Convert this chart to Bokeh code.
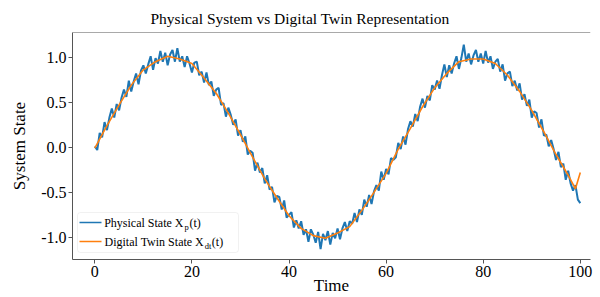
import numpy as np
from bokeh.plotting import figure
from bokeh.models import Range1d, Label, BoxAnnotation, Span, FixedTicker, PrintfTickFormatter
from bokeh.embed import file_html
from bokeh.resources import INLINE

TITLE = "Physical System vs Digital Twin Representation"
X_LABEL = "Time"
Y_LABEL = "System State"
X_TICKS = [0, 20, 40, 60, 80, 100]
Y_TICKS = [-1.0, -0.5, 0.0, 0.5, 1.0]

time = np.linspace(0, 100, 201)
physical = [
    0.01, -0.03, 0.16, 0.11, 0.28, 0.19, 0.33, 0.43, 0.33, 0.48,
    0.41, 0.55, 0.64, 0.56, 0.74, 0.62, 0.73, 0.82, 0.70, 0.85,
    0.91, 0.82, 0.92, 1.01, 0.86, 0.99, 0.93, 1.07, 0.95, 1.05,
    0.91, 1.03, 1.08, 0.95, 1.10, 0.95, 1.01, 0.89, 1.01, 0.93,
    0.83, 0.94, 0.95, 0.80, 0.84, 0.72, 0.83, 0.69, 0.73, 0.57,
    0.64, 0.66, 0.47, 0.49, 0.34, 0.44, 0.36, 0.25, 0.31, 0.13,
    0.19, 0.06, 0.12, -0.08, -0.04, -0.06, -0.26, -0.17, -0.28, -0.23,
    -0.40, -0.31, -0.47, -0.44, -0.61, -0.54, -0.55, -0.69, -0.59, -0.78,
    -0.75, -0.72, -0.89, -0.81, -0.90, -0.82, -0.97, -0.91, -1.05, -0.91,
    -0.97, -1.06, -0.94, -1.13, -0.96, -1.03, -0.93, -1.08, -0.95, -1.01,
    -0.90, -1.02, -0.90, -0.83, -0.93, -0.82, -0.85, -0.73, -0.83, -0.69,
    -0.75, -0.58, -0.66, -0.53, -0.63, -0.49, -0.42, -0.48, -0.27, -0.36,
    -0.24, -0.30, -0.12, -0.14, -0.11, 0.05, -0.02, 0.12, 0.03, 0.20,
    0.29, 0.23, 0.37, 0.29, 0.45, 0.54, 0.44, 0.57, 0.52, 0.69,
    0.64, 0.74, 0.65, 0.80, 0.92, 0.78, 0.91, 0.82, 0.93, 1.01,
    0.87, 0.99, 1.14, 0.95, 1.04, 0.92, 1.02, 1.08, 0.95, 1.04,
    0.93, 1.07, 0.94, 1.01, 0.87, 0.95, 0.98, 0.84, 0.92, 0.74,
    0.82, 0.84, 0.68, 0.74, 0.63, 0.71, 0.53, 0.59, 0.46, 0.53,
    0.33, 0.40, 0.38, 0.22, 0.31, 0.13, 0.14, 0.01, 0.08, -0.02,
    -0.14, -0.05, -0.22, -0.18, -0.36, -0.26, -0.40, -0.48, -0.42, -0.58,
    -0.62,
]

# digital twin state
twin_time = [0, 2.5, 5, 7.5, 10, 12.5, 15, 17.5, 20, 22.5,
             25, 27.5, 30, 32.5, 35, 37.5, 40, 42.5, 45, 47.5,
             50, 52.5, 55, 57.5, 60, 62.5, 65, 67.5, 70, 72.5,
             75, 77.5, 80, 82.5, 85, 87.5, 90, 92.5, 95, 97.5,
             99, 100]
twin = [-0.01, 0.24, 0.47, 0.69, 0.86, 0.95, 1.01, 0.98, 0.93, 0.77,
        0.60, 0.38, 0.14, -0.11, -0.35, -0.56, -0.76, -0.90, -0.98, -1.01,
        -0.95, -0.88, -0.70, -0.50, -0.29, -0.02, 0.21, 0.45, 0.66, 0.82,
        0.95, 0.98, 0.98, 0.93, 0.80, 0.62, 0.41, 0.17, -0.08, -0.31,
        -0.46, -0.28]

X_MIN, X_MAX = -4.6, 102.1
Y_MIN, Y_MAX = -1.245, 1.274

SERIF = "Liberation Serif"
BLUE = "#1f77b4"
ORANGE = "#ff7f0e"
SPINE = "#555555"

p = figure(width=600, height=297, output_backend="svg", toolbar_location=None,
           x_range=Range1d(X_MIN, X_MAX), y_range=Range1d(Y_MIN, Y_MAX),
           min_border_left=72, min_border_right=10, min_border_top=32, min_border_bottom=0)

p.title.text = TITLE
p.title.text_font = SERIF
p.title.text_font_style = "normal"
p.title.text_font_size = "15.5px"
p.title.text_color = "black"
p.title.align = "left"
p.title.offset = 78
p.title.standoff = 11

p.background_fill_color = "white"
p.border_fill_color = "white"
p.outline_line_color = None
p.xgrid.visible = False
p.ygrid.visible = False

for ax in (p.xaxis[0], p.yaxis[0]):
    ax.axis_line_color = SPINE
    ax.major_tick_line_color = SPINE
    ax.minor_tick_line_color = None
    ax.major_tick_in = 0
    ax.major_tick_out = 4
    ax.major_label_text_font = SERIF
    ax.major_label_text_font_size = "16px"
    ax.major_label_text_color = "black"
    ax.axis_label_text_font = SERIF
    ax.axis_label_text_font_size = "17px"
    ax.axis_label_text_font_style = "normal"
    ax.axis_label_text_color = "black"

p.xaxis[0].ticker = FixedTicker(ticks=X_TICKS)
p.yaxis[0].ticker = FixedTicker(ticks=Y_TICKS)
p.xaxis[0].formatter = PrintfTickFormatter(format="%d")
p.yaxis[0].formatter = PrintfTickFormatter(format="%.1f")
p.xaxis[0].axis_label = X_LABEL
p.yaxis[0].axis_label = Y_LABEL
p.xaxis[0].major_label_standoff = 2
p.xaxis[0].axis_label_standoff = -4
p.yaxis[0].major_label_standoff = 2
p.yaxis[0].axis_label_standoff = 9

# top spine
p.add_layout(Span(location=Y_MAX, dimension="width", line_color=SPINE, line_width=1))

p.line(time, physical, line_color=BLUE, line_width=2.0)
p.line(twin_time, twin, line_color=ORANGE, line_width=1.6)

# legend (frame-relative screen units)
p.add_layout(BoxAnnotation(left=5, right=166, bottom=7, top=47,
                           left_units="screen", right_units="screen",
                           bottom_units="screen", top_units="screen",
                           fill_color="white", fill_alpha=0.85,
                           line_color="#d0d0d0", line_width=1, border_radius=3))
for yy, col in ((37, BLUE), (18, ORANGE)):
    p.add_layout(BoxAnnotation(left=7, right=29, bottom=yy - 0.75, top=yy + 0.75,
                               left_units="screen", right_units="screen",
                               bottom_units="screen", top_units="screen",
                               fill_color=col, fill_alpha=1, line_color=None))

def lab(x, y, t, size, align="left"):
    p.add_layout(Label(x=x, y=y, x_units="screen", y_units="screen", text=t,
                       text_font=SERIF, text_font_size=size, text_color="black",
                       text_baseline="middle", text_align=align))

lab(111, 37, "Physical State X", "12px", "right")
lab(112, 33, "p", "8.5px")
lab(117, 37, "(t)", "12px")
lab(131.5, 18, "Digital Twin State X", "12px", "right")
lab(132.3, 14, "dt", "8.5px")
lab(139.3, 18, "(t)", "12px")

open("out.html", "w").write(file_html(p, INLINE))
